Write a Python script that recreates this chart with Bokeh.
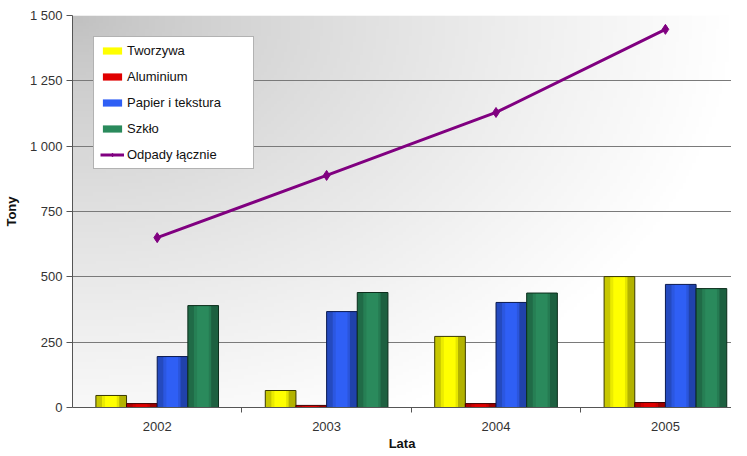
import numpy as np
from bokeh.plotting import figure
from bokeh.models import Range1d, FixedTicker, Legend, LegendItem
from bokeh.embed import file_html
from bokeh.resources import INLINE

# ---- data ----
years = ["2002", "2003", "2004", "2005"]
tworzywa = [46, 65, 272, 501]
aluminium = [15, 8, 15, 19]
papier = [195, 367, 402, 471]
szklo = [390, 440, 438, 455]
odpady = [650, 888, 1129, 1447]
series_names = ["Tworzywa", "Aluminium", "Papier i tekstura", "Szkło"]
line_name = "Odpady łącznie"
y_ticks = [0, 250, 500, 750, 1000, 1250, 1500]
y_tick_labels = ["0", "250", "500", "750", "1 000", "1 250", "1 500"]
x_label = "Lata"
y_label = "Tony"

# ---- styles ----
bar_colors = ["#ffff00", "#e00000", "#2f5ff5", "#2a8a5c"]
bar_edges = ["#3a3a00", "#400000", "#0a1a50", "#0c2e1c"]
line_color = "#800080"
FONT = "Liberation Sans"
FS = "13px"

XMAX = 3.89
p = figure(width=731, height=454, output_backend="svg", toolbar_location=None,
           x_range=Range1d(0, XMAX), y_range=Range1d(0, 1500),
           min_border_left=66, min_border_right=0, min_border_top=15, min_border_bottom=47)
p.outline_line_color = None
p.background_fill_color = "white"
p.border_fill_color = "white"

# gradient background of plot area
nx, ny = 200, 120
gx = np.linspace(0, 1, nx)[None, :]
gy = np.linspace(0, 1, ny)[:, None]
d = np.clip(np.sqrt((gx / 1.0) ** 2 + ((1 - gy) / 1.15) ** 2), 0, 1)
val = (192 + (255 - 192) * d ** 0.8).astype(np.uint32)
img = (255 << 24) | (val << 16) | (val << 8) | val
p.image_rgba(image=[img.astype(np.uint32)], x=0, y=0, dw=XMAX, dh=1500, level="image")

# grid
p.xgrid.visible = False
p.ygrid.ticker = FixedTicker(ticks=y_ticks)
p.ygrid.grid_line_color = "#7a7a7a"
p.ygrid.grid_line_width = 1.2
p.ygrid.level = "underlay"

# bars
centers = np.arange(len(years)) + 0.5
w = 0.181
offs = np.array([-1.5, -0.5, 0.5, 1.5]) * w
bar_rs = []
for vals, off, col, ec in zip([tworzywa, aluminium, papier, szklo], offs, bar_colors, bar_edges):
    xs = centers + off
    r = p.vbar(x=xs, top=vals, bottom=0, width=w, fill_color=col, line_color=None)
    # cylinder-like shading
    p.vbar(x=xs - w * 0.40, top=vals, bottom=0, width=w * 0.2, fill_color="black",
           fill_alpha=0.22, line_color=None)
    p.vbar(x=xs - w * 0.25, top=vals, bottom=0, width=w * 0.1, fill_color="black",
           fill_alpha=0.08, line_color=None)
    p.vbar(x=xs + w * 0.38, top=vals, bottom=0, width=w * 0.24, fill_color="black",
           fill_alpha=0.3, line_color=None)
    p.vbar(x=xs + w * 0.22, top=vals, bottom=0, width=w * 0.08, fill_color="black",
           fill_alpha=0.1, line_color=None)
    p.vbar(x=xs, top=vals, bottom=0, width=w, fill_color=None, line_color=ec, line_width=1)
    bar_rs.append(r)

# total line
lr = p.line(centers, odpady, line_color=line_color, line_width=3)
sr = p.scatter(centers, odpady, marker="diamond", size=10, fill_color=line_color,
               line_color=line_color)

# axes
yax = p.yaxis[0]
yax.ticker = FixedTicker(ticks=y_ticks)
yax.major_label_overrides = {t: s for t, s in zip(y_ticks, y_tick_labels)}
yax.axis_line_color = "#555555"
yax.major_tick_line_color = "#555555"
yax.major_tick_out = 6
yax.major_tick_in = 0
yax.minor_tick_line_color = None
yax.major_label_text_font = FONT
yax.major_label_text_font_size = FS
yax.major_label_text_color = "#333333"
yax.major_label_standoff = 4
yax.axis_label = y_label
yax.axis_label_text_font = FONT
yax.axis_label_text_font_style = "bold"
yax.axis_label_text_font_size = FS
yax.axis_label_text_color = "#111111"
yax.axis_label_standoff = 8

xax = p.xaxis[0]
xax.ticker = FixedTicker(ticks=list(centers), minor_ticks=[1, 2, 3])
xax.major_label_overrides = {float(c): y for c, y in zip(centers, years)}
xax.axis_line_color = "#555555"
xax.major_tick_line_color = None
xax.major_tick_out = 0
xax.major_tick_in = 0
xax.minor_tick_line_color = "#555555"
xax.minor_tick_out = 5
xax.minor_tick_in = 0
xax.major_label_text_font = FONT
xax.major_label_text_font_size = FS
xax.major_label_text_color = "#333333"
xax.major_label_standoff = 9
xax.axis_label = x_label
xax.axis_label_text_font = FONT
xax.axis_label_text_font_style = "bold"
xax.axis_label_text_font_size = FS
xax.axis_label_text_color = "#111111"
xax.axis_label_standoff = 2

# legend
items = [LegendItem(label=n, renderers=[r]) for n, r in zip(series_names, bar_rs)]
items.append(LegendItem(label=line_name, renderers=[lr, sr]))
leg = Legend(items=items, location=(21, 238), orientation="vertical",
             padding=6, spacing=11, glyph_width=24, glyph_height=9,
             label_height=15, label_width=120, label_standoff=3,
             label_text_font=FONT, label_text_font_size=FS, label_text_color="#111111",
             border_line_color="#666666", border_line_width=1,
             background_fill_color="white", background_fill_alpha=1.0, margin=0)
p.add_layout(leg, "center")

open("out.html", "w").write(file_html(p, INLINE))
